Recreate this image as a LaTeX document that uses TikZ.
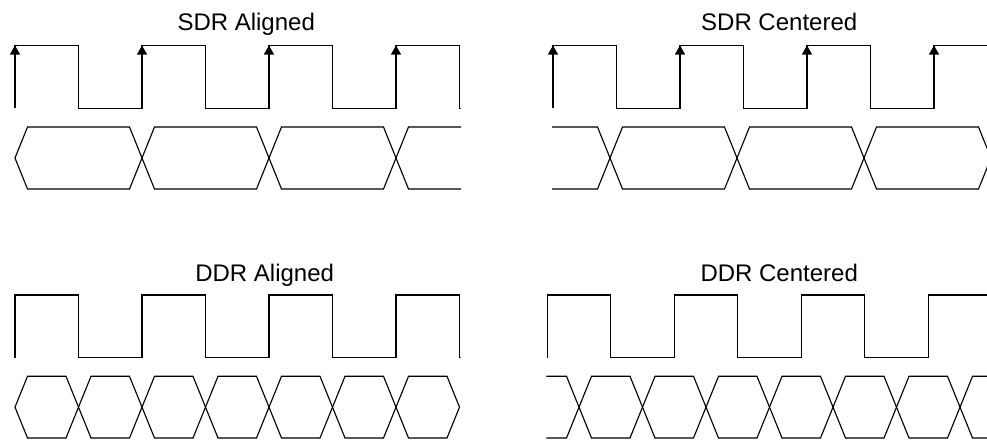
\documentclass[tikz,border=0pt]{standalone}
\usepackage{fontspec}
\setmainfont{Liberation Sans}
\usetikzlibrary{arrows.meta}

\begin{document}
\begin{tikzpicture}[x=0.75pt,y=-0.75pt,line width=0.85pt,
  title/.style={anchor=base,font=\fontsize{18}{20}\selectfont},
  edge/.style={-{Triangle[length=6.75pt,width=7.5pt]}}]
\def\T{127}
\def\h{12.5}
\pgfmathsetmacro\Th{\T/2}
  \useasboundingbox (0,0) rectangle (987,439);

  \node[title] (sdrA) at (246.2,30.5) {SDR Aligned};
  \node[title] (sdrC) at (779.2,30.5) {SDR Centered};
  \node[title] (ddrA) at (264.7,281.7) {DDR Aligned};
  \node[title] (ddrC) at (779.2,281.7) {DDR Centered};

  \foreach \xa/\xb/\yh/\yl in {15/460/45.5/108.3, 553/987/45.5/108.3,
                               15/460/295/357.5, 547.3/987/295/357.5} {
    \begin{scope}
      \clip (\xa-1,\yh-2) rectangle (\xb+0.6,\yl+2);
      \draw (\xa,\yl) \foreach \k in {0,...,3} {
        -- ({\xa+\k*\T},\yh) -- ({\xa+\k*\T+\Th},\yh)
        -- ({\xa+\k*\T+\Th},\yl) -- ({\xa+(\k+1)*\T},\yl) };
    \end{scope}
  }
  \foreach \xa in {15,553} {
    \foreach \k in {0,...,3}
      \draw[edge] ({\xa+\k*\T},80) -- ({\xa+\k*\T},45.5);
  }

  \foreach \xa/\xb/\c/\p/\n/\yt/\yb in {15/460/15/127/3/127/189, 553/987/483/127/4/127/189,
                                        15/460/15/63.5/6/376.3/438, 547.3/987/515.5/63.5/7/376.3/438} {
    \pgfmathsetmacro\ym{(\yt+\yb)/2}
    \begin{scope}
      \clip (\xa-1,\yt-2) rectangle (\xb+1,\yb+2);
      \foreach \k in {0,...,\n} {
        \pgfmathsetmacro\a{\c+\k*\p}
        \pgfmathsetmacro\b{\a+\p}
        \draw (\a,\ym) -- (\a+\h,\yt) -- (\b-\h,\yt) -- (\b,\ym)
          -- (\b-\h,\yb) -- (\a+\h,\yb) -- cycle;
      }
    \end{scope}
  }
\end{tikzpicture}
\end{document}
